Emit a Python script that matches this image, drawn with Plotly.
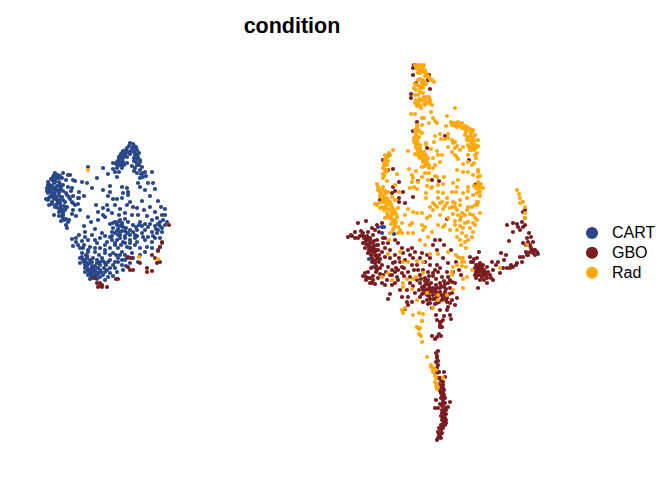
import plotly.graph_objects as go

CATEGORIES = ["CART", "GBO", "Rad"]
COLORS = ["#27478A", "#7B1C1F", "#FFA80A"]

CART = [
(133,144),(129,146),(136,147),(127,148),(132,148),(137,150),(123,151),(128,152),(134,152),(121,154),(125,155),(130,154),(137,154),(119,157),(123,158),(127,157),(138,157),(134,158),(118,161),(123,162),(127,163),(136,162),(140,162),(116,164),(121,165),(132,166),(137,165),(142,167),(113,163),(117,168),(122,168),(135,168),(140,170),(145,172),(115,172),(119,172),(137,173),(143,173),(143,177),(140,178),(108,174),(103,168),(113,169),(97,178),(117,177),
(55,173),(58,175),(53,177),(63,173),(68,175),(70,175),(57,178),(52,180),(62,178),(66,180),(48,182),(54,183),(59,182),(50,185),(57,186),(63,185),(68,187),(47,188),(53,189),(61,188),(73,180),(75,181),(48,193),(54,193),(59,193),(66,193),(72,188),(79,192),(50,197),(56,198),(62,197),(69,197),(73,196),(79,198),(46,199),(52,202),(58,202),(65,202),(72,202),(78,198),(49,205),(55,207),(61,206),(67,207),(73,203),(54,215),(59,212),(63,210),(73,210),(69,220),(63,218),(61,221),(66,225),(67,228),(63,215),(75,205),
(51,187),(55,180),(60,176),(49,190),(52,195),(57,190),(63,191),(48,200),(54,199),(60,200),(57,204),(61,209),(65,210),(59,216),
(88,167),(82,182),(87,183),(110,186),(122,187),(127,188),(128,192),(138,183),(140,187),(148,183),(153,183),(145,190),(155,189),(110,192),(123,193),(128,195),(108,196),(113,199),(117,199),(122,198),(130,202),(127,205),(133,207),(142,201),(158,201),(137,208),(125,213),(161,207),(165,209),(147,216),(162,215),(132,215),(103,208),(108,210),(98,212),(103,215),(88,217),(98,220),(105,217),
(120,220),(125,219),(110,224),(113,223),(117,225),(122,223),(128,222),(133,225),(140,222),(148,227),(155,226),(163,220),(165,225),(162,228),(113,228),(118,229),(123,227),(130,230),(137,230),(145,230),(158,230),(115,233),(120,235),(127,233),(135,235),(142,233),(148,237),(157,233),(162,232),(110,237),(79,235),(92,235),(85,237),(72,239),(100,238),(95,229),(102,233),(107,242),(117,240),(123,242),(130,240),(137,242),(145,240),(152,242),(162,243),(160,247),(97,243),(90,247),(73,246),(78,245),(83,248),(100,248),(110,248),(118,248),(127,247),(140,248),(147,247),(158,250),(82,253),(88,252),(95,252),(105,253),(113,253),(122,252),(132,253),(145,252),(80,258),(87,258),(93,258),(102,258),(110,260),(118,258),(125,260),(133,258),(80,263),(85,265),(90,263),(97,263),(105,263),(113,265),(122,265),(130,263),(88,270),(93,268),(100,270),(107,270),(85,272),(90,274),(97,275),(103,275),(110,273),(93,278),(100,277),(123,270),
(83,260),(90,260),(95,266),(100,265),(85,268),(92,272),(87,256),(99,255),(104,268),(108,262),(115,262),(120,255),(125,255),(115,245),(120,238),(125,238),(112,240),(130,235),(135,238),(118,222),(120,226),(115,222),(158,224),(160,226),
(384,227),(382,227),(378,227),(382,233),(394,234),(364,237),(377,245),(369,259),(373,267),(538,254),
(130,143),(134,146),(126,150),(131,151),(135,150),(139,153),(122,153),(126,153),(120,156),(124,156),(135,155),(119,159),(122,160),(137,159),(140,160),(117,162),(120,163),(124,165),(134,161),(139,165),(118,166),(134,171),(141,174),
(54,175),(56,177),(59,178),(51,179),(55,182),(60,184),(48,185),(52,186),(55,188),(59,186),(50,188),(56,191),(60,190),(47,191),(51,192),(55,195),(59,196),(53,197),(49,198),(57,200),(63,200),(52,204),(56,205),(60,203),(64,206),(60,211),(63,213),(66,208),(58,208),(62,216),(64,220),(68,222),(66,219),(70,199),(67,195),(71,191),
(84,262),(88,264),(92,266),(87,267),(91,269),(95,270),(98,268),(101,272),(96,272),(94,275),(99,273),(89,272),(82,257),(85,260),(86,262),(92,262),(97,260),(103,261),(100,262),(106,265),(110,268),(105,272),(93,272),(88,275),(91,276),(97,279),(115,268),(118,262),(122,260),(127,258),(130,258),(116,255),(110,255),(105,250),(95,248),(88,250),(84,245),(121,245),(125,243),(125,236),(128,233),(122,231),(133,232),(117,231),(112,236),(120,232),(126,228),(122,225),(118,235),(125,231),(115,243),(130,243),(137,236),(143,237),(153,236),(152,232),(156,229),(150,224),(160,222),(167,222),(142,226),(136,227),(152,248),(130,248),(135,245),(105,245),(76,242),(80,248),(86,255),
(76,238),(82,241),(88,240),(95,240),(105,236),(112,232),(139,225),(145,224),(152,220),(157,218),(155,212),(150,207),(144,210),(138,215),(119,215),(112,213),(107,205),(115,205),(120,209),(96,205),(91,222),(84,226),(85,232),(165,215),(160,238),(155,238),(140,255),(138,262),(126,266),(117,272),(108,277),(113,276),(105,280),(90,279),(150,196),(146,176),(152,172),(92,188),(103,190),(84,196),(78,204),(80,210),(76,216),(72,214),
]

GBO = [
(100,283),(98,287),(102,285),(107,287),(95,278),(116,279),(118,279),(128,257),(132,258),(128,267),(130,270),(133,270),(140,263),(147,268),(147,272),(152,271),(157,263),(160,262),(152,255),(155,258),(162,242),(160,247),(158,251),(169,225),(97,283),(102,287),(100,286),
(414,65),(413,68),(413,75),(429,75),(428,80),(416,83),(430,89),(411,94),(411,98),(417,122),(413,131),(445,136),(427,148),(469,160),(383,160),(388,156),(393,169),(388,170),(399,182),(393,187),(395,191),(392,193),(403,192),(399,198),(413,197),(405,203),(399,202),(439,181),(432,180),(418,181),(475,185),(477,184),(383,199),(380,200),
(358,223),(366,221),(355,238),(358,238),(363,233),(368,232),(372,228),(377,225),(382,223),(373,235),(367,240),(363,243),(370,243),(377,240),(365,248),(372,248),(378,245),(383,243),(368,253),(375,252),(382,252),(372,258),(378,258),(385,257),(375,263),(382,265),(377,270),(368,272),(365,273),(368,278),(373,280),(375,284),(385,285),(390,275),(397,277),(402,273),(380,268),(388,267),(393,263),(390,258),(395,255),(403,253),(410,255),(405,260),(415,252),(422,253),(412,265),(417,265),(427,255),(433,245),(440,240),(435,240),(447,219),(423,270),(420,275),(425,278),(428,272),(433,273),(440,268),(447,272),(437,265),(443,258),(448,263),(453,272),
(360,236),(364,238),(367,236),(370,238),(374,241),(366,244),(369,247),(371,251),(374,246),(371,255),(376,256),(373,260),(376,266),(379,262),(366,277),(370,283),(376,272),(380,274),(386,272),(392,270),(396,268),(400,262),(404,268),(408,272),(414,270),(398,243),(395,240),(385,238),
(420,283),(425,285),(430,288),(435,290),(423,290),(428,293),(433,295),(440,288),(445,292),(450,288),(455,283),(452,293),(447,298),(442,300),(437,303),(432,308),(427,300),(420,297),(415,293),(408,297),(402,297),(407,302),(412,302),(390,294),(388,299),(423,302),(450,303),(448,307),(457,298),(452,282),(436,315),(437,320),(440,322),(443,320),(451,319),(440,327),(408,305),(405,309),(417,280),(410,283),(398,280),(392,275),
(422,287),(427,283),(431,283),(436,285),(440,283),(444,287),(448,283),(426,290),(431,291),(437,294),(442,295),(427,295),(422,294),(430,299),(435,299),(440,292),(448,277),(442,277),(436,279),(428,280),(447,302),(452,300),(433,276),(438,272),
(479,252),(470,257),(477,258),(473,262),(480,263),(475,268),(482,268),(487,267),(478,272),(483,273),(488,272),(493,270),(475,275),(482,277),(487,278),(493,280),(480,280),(478,288),(487,283),(496,265),(503,268),(501,253),(506,255),(500,273),(479,269),(481,271),(484,270),(477,270),(485,275),(480,275),(476,265),
(507,225),(513,223),(517,224),(522,222),(525,218),(523,212),(525,210),(513,232),(509,241),(529,233),(531,237),(528,242),(533,242),(530,245),(523,243),(532,250),(537,252),(533,253),(528,255),(523,257),(520,257),(527,255),(535,255),(517,263),(513,267),(510,268),(507,268),(522,262),(518,227),(523,227),
(441,322),(440,325),(442,327),(432,336),(435,339),(439,334),(437,337),(441,336),(436,353),(437,358),(436,362),(438,365),(436,371),(437,373),(444,372),(445,377),(438,378),(443,382),(440,385),(442,388),(440,391),(443,393),(442,396),(443,398),(436,400),(450,402),(445,403),(442,406),(435,408),(438,408),(445,408),(448,407),(443,413),(445,418),(442,420),(445,425),(442,427),(438,432),(442,433),(440,437),(437,440),(440,435),(443,402),(443,388),
(362,235),(365,237),(368,238),(366,241),(370,240),(373,243),(368,245),(371,247),(374,249),(376,250),(369,250),(373,252),(378,250),(375,255),(379,255),(372,262),(376,260),(380,259),(376,268),(371,268),(363,276),(366,280),(370,278),(373,276),(352,236),(361,231),(375,230),(379,232),
(425,281),(429,285),(433,288),(437,288),(441,286),(446,289),(424,287),(428,289),(432,292),(436,292),(440,295),(445,295),(449,294),(425,293),(429,296),(433,299),(437,297),(443,298),(446,300),(439,302),(435,304),(430,303),(428,304),(419,290),(421,279),(429,276),(444,281),(450,280),(425,262),(430,265),(435,270),(413,258),(408,250),(399,258),(402,267),(410,277),(404,276),(395,272),(392,285),(400,290),(447,310),(450,315),(440,310),(444,316),
(477,265),(480,266),(483,265),(478,267),(481,268),(485,272),(476,272),(478,275),(483,276),(486,275),(490,275),(491,278),(484,280),(476,278),(471,262),(474,259),
(528,245),(531,248),(534,250),(530,252),(535,250),(526,252),(516,265),(511,265),(525,225),(520,230),(527,238),(526,245),
(441,393),(444,390),(442,392),(444,395),(441,398),(445,398),(443,400),(440,404),(444,404),(442,410),(444,411),(446,410),(442,413),(446,414),(441,416),(444,416),(443,418),(446,420),(444,422),(443,424),(441,425),(446,423),(439,428),(441,430),(443,428),(439,435),(441,438),(438,438),(441,327),(438,351),(437,356),(438,361),(437,368),(439,372),(440,378),(441,381),(438,384),(441,388),(443,385),
(385,248),(390,250),(395,262),(398,270),(383,275),(387,280),(378,278),(382,283),(395,283),(407,290),(413,286),(418,270),(412,248),(420,258),(430,258),(437,250),(444,245),(451,250),(456,262),(459,270),(461,275),(455,305),(445,284),(372,283),(383,238),(388,243),(402,248),(355,232),(348,237),(351,235),(498,262),(504,260),(492,262),
]

RAD = [
(88,170),(139,257),(158,259),
(415,65),(420,67),(423,67),(417,69),(422,70),(425,70),(420,73),(426,73),(427,77),(420,79),(423,80),(430,79),(434,82),(415,84),(422,83),(426,84),(414,88),(420,88),(423,88),(418,95),(415,95),(423,93),(427,97),(425,100),(430,100),(420,99),(415,103),(418,105),(421,108),(425,105),(432,105),(428,103),(455,108),(411,114),(415,114),(431,112),(447,116),(422,118),(424,118),(433,118),(435,121),(437,123),(429,123),(422,125),
(417,125),(415,130),(418,130),(422,133),(416,135),(419,137),(414,141),(417,141),(416,145),(420,145),(417,149),(420,150),(426,144),(415,154),(418,155),(422,155),(420,158),(424,158),(426,155),(423,162),(427,162),(425,166),(429,168),(408,151),(431,149),(422,167),(428,158),
(446,126),(452,125),(456,123),(458,122),(462,123),(457,127),(465,126),(464,129),(470,129),(473,130),(475,135),(472,132),(465,135),(468,137),(472,138),(467,140),(472,143),(475,145),(468,145),(473,148),(470,150),(478,140),(478,146),(452,140),(455,142),(457,146),(453,143),(448,147),(463,147),(460,150),(455,148),(468,155),(475,155),(457,157),(442,155),(437,151),(438,155),(433,158),(435,165),(440,162),(426,143),(435,136),(440,134),(448,134),(434,142),(441,139),(445,139),(448,138),(452,152),(455,155),(463,164),(458,159),(468,162),(474,163),(477,153),
(409,169),(416,171),(397,174),(425,173),(429,173),(433,168),(457,170),(463,172),(468,172),(478,170),(473,175),(478,177),(435,176),(444,177),(428,180),(437,177),(422,177),(413,178),(412,182),(418,182),(387,181),(427,186),(432,187),(438,185),(443,184),(453,183),(458,180),(457,187),(468,187),(478,182),(480,187),(483,188),(410,188),(414,187),(417,189),(426,193),(431,188),(426,198),(438,192),(443,193),(452,192),(456,192),(463,193),(473,195),(480,196),(438,198),(447,198),(453,202),(460,200),(467,198),(477,202),(468,191),(442,202),(433,203),
(393,150),(390,155),(387,157),(385,160),(388,161),(384,163),(387,165),(383,168),(387,170),(383,174),(383,178),(385,170),(387,162),
(377,184),(378,187),(382,189),(383,187),(381,193),(385,191),(388,192),(382,198),(387,198),(392,197),(383,202),(390,202),(395,200),(399,192),(395,185),
(377,205),(382,207),(387,205),(392,207),(382,202),(390,210),(395,212),(387,213),(392,215),(397,217),(390,218),(393,222),(398,208),(385,218),(395,225),(398,227),(393,230),(398,233),(402,233),(390,233),(389,240),(408,209),(413,212),(417,213),(422,213),(412,223),(408,233),(413,233),(430,216),(427,218),(422,225),(425,227),(423,230),(432,232),(428,237),(438,225),(443,227),(450,230),(455,221),(460,220),(465,223),(457,230),(462,233),(465,242),(457,237),(472,237),(473,232),(473,223),(477,220),(480,213),(473,215),(467,210),(462,213),(457,210),(452,207),(455,203),(447,203),(440,203),(435,205),(460,205),(468,207),(477,205),(478,202),(430,207),
(388,254),(400,252),(408,262),(403,262),(417,261),(423,262),(430,254),(438,254),(448,252),(458,257),(463,258),(457,265),(466,267),(472,270),(462,262),(452,272),(452,275),(382,277),(388,273),(392,280),(403,283),(407,279),(413,279),(416,277),(423,273),(403,287),(412,289),(417,300),(427,293),(438,295),(438,300),(453,290),(447,295),(463,279),(467,277),(463,288),(402,310),(405,308),(403,313),(413,315),(419,313),(423,314),(422,321),(417,327),(420,328),(433,308),(500,268),
(525,207),(522,202),(525,213),(525,218),(527,245),(517,190),(519,194),(520,198),(523,202),(520,203),
(422,321),(417,327),(419,329),(419,334),(421,336),(422,342),(427,357),(431,367),(434,368),(433,372),(435,375),(435,382),(437,384),(437,389),(443,378),
(416,67),(418,65),(421,65),(424,65),(419,70),(423,72),(418,73),(425,76),(428,76),(432,80),(418,80),(425,82),(417,85),(419,86),(423,85),(416,90),(420,92),(424,97),(429,97),(422,100),(427,102),(419,102),(416,100),(424,104),(430,103),(417,106),(420,106),
(417,128),(420,132),(416,132),(414,138),(418,138),(415,143),(418,144),(420,148),(416,147),(418,152),(421,152),(424,152),(419,157),(423,160),(425,160),(426,164),(429,165),(412,175),
(451,122),(453,123),(455,126),(459,125),(461,126),(462,128),(467,127),(468,130),(471,133),(466,132),(467,139),(470,136),(474,137),(470,141),(474,141),(469,147),(472,146),(476,148),(471,150),(474,150),(476,158),(472,165),(478,172),(480,176),(478,185),(481,184),(479,189),(476,188),(474,186),(480,192),(477,193),
(378,190),(380,192),(384,195),(386,193),(380,196),(384,200),(386,203),(388,200),(391,205),(385,207),(388,209),(392,212),(388,215),(394,210),(396,214),(392,219),(395,220),(391,224),(396,222),(394,228),(400,230),(386,192),(379,203),(375,204),(380,208),(384,210),(387,217),
(385,155),(386,158),(384,166),(386,172),(384,176),(389,153),
(475,205),(472,207),(470,214),(475,218),(475,225),(470,228),(468,222),(465,215),(455,207),(450,208),(445,206),(437,207),(443,209),(433,210),(453,214),(458,215),(461,217),(455,225),(463,228),(460,226),(466,236),(460,240),(461,245),(468,240),(466,248),(456,255),(460,258),(464,262),(462,266),(453,267),
(436,370),(431,365),(433,369),(435,370),(436,378),(436,386),(438,387),
(405,215),(410,225),(402,223),(420,240),(440,215),(448,218),(445,225),(425,245),
]

SERIES = [CART, GBO, RAD]

fig = go.Figure()
for name, color, pts in zip(CATEGORIES, COLORS, SERIES):
    fig.add_trace(go.Scatter(
        x=[p[0] for p in pts], y=[p[1] for p in pts], mode="markers",
        marker=dict(color=color, size=4.2, line=dict(width=0)),
        showlegend=False, name=name, hoverinfo="skip"))
for name, color in zip(CATEGORIES, COLORS):
    fig.add_trace(go.Scatter(
        x=[None], y=[None], mode="markers",
        marker=dict(color=color, size=12, line=dict(width=0)),
        name='<span style="font-size:16px">' + name + "</span>", showlegend=True))

fig.update_layout(
    width=672, height=480, autosize=False,
    margin=dict(l=0, r=0, t=0, b=0),
    paper_bgcolor="white", plot_bgcolor="white",
    font=dict(family="Liberation Sans, Arial, sans-serif", color="black"),
    title=dict(text="<b>condition</b>", x=292/672, xanchor="center", xref="paper",
               y=1-25/480, yanchor="middle", yref="container",
               font=dict(size=21.5, color="black")),
    xaxis=dict(visible=False, range=[0, 672], fixedrange=True),
    yaxis=dict(visible=False, range=[480, 0], fixedrange=True),
    legend=dict(x=572/672, xanchor="left", y=1-253/480, yanchor="middle",
                font=dict(size=13, color="black"), tracegroupgap=0,
                bgcolor="rgba(0,0,0,0)", itemwidth=30),
    showlegend=True,
)
fig.write_html("out.html", config={"displayModeBar": False},
               post_script="document.body.style.margin='0';document.documentElement.style.overflow='hidden';")
